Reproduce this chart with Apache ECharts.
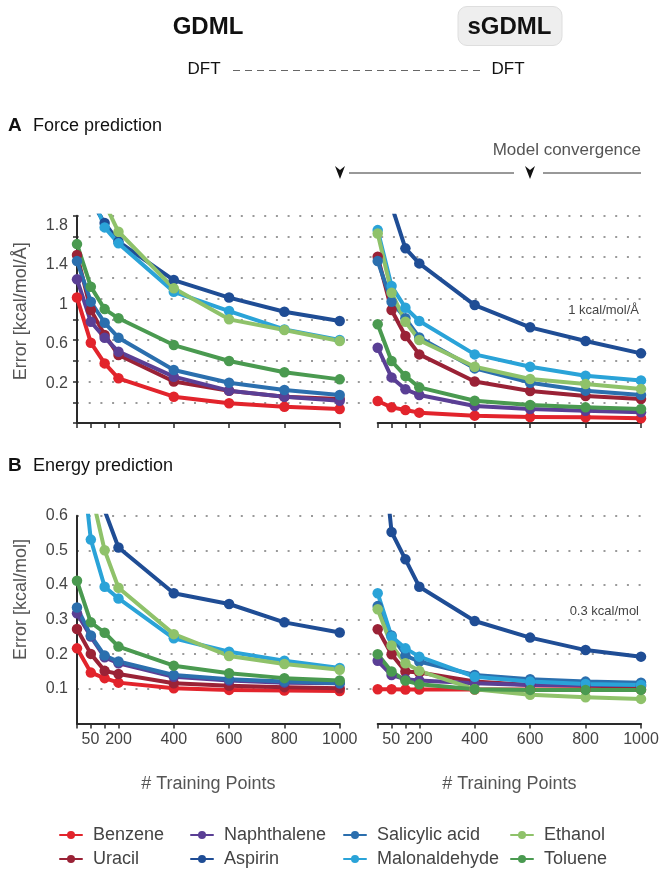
<!DOCTYPE html>
<html>
<head>
<meta charset="utf-8">
<script src="https://cdn.jsdelivr.net/npm/echarts@6/dist/echarts.min.js"></script>
<style>
html,body{margin:0;padding:0;background:#fff;}
#chart{width:664px;height:869px;}
</style>
</head>
<body>
<div id="chart"></div>
<script>
// ---------- data ----------
const trainingPoints = [50, 100, 150, 200, 400, 600, 800, 1000];
const xTickLabels = [50, 200, 400, 600, 800, 1000];
const molecules = ['Benzene', 'Uracil', 'Naphthalene', 'Aspirin', 'Salicylic acid', 'Malonaldehyde', 'Ethanol', 'Toluene'];
const moleculeColors = ['#e2242c', '#9a2236', '#5a3f95', '#1f4d95', '#2b6fae', '#2aa3d8', '#8fc26a', '#4a9a50'];
const forceLabelTicks = [0.2, 0.6, 1, 1.4, 1.8];

// Force error [kcal/mol/Å], GDML (left) and sGDML (right)
const forceGDML = {
  'Benzene':        [1.21, 0.775, 0.575, 0.431, 0.254, 0.19, 0.157, 0.135],
  'Uracil':         [1.62, 1.09, 0.85, 0.656, 0.40, 0.31, 0.254, 0.231],
  'Naphthalene':    [1.386, 0.977, 0.823, 0.688, 0.447, 0.312, 0.254, 0.215],
  'Aspirin':        [2.9, 2.145, 1.93, 1.75, 1.379, 1.21, 1.073, 0.984],
  'Salicylic acid': [1.562, 1.17, 0.967, 0.823, 0.511, 0.389, 0.318, 0.27],
  'Malonaldehyde':  [2.8, 2.234, 1.887, 1.733, 1.266, 1.08, 0.903, 0.80],
  'Ethanol':        [3.2, 2.6, 2.12, 1.845, 1.299, 1.0, 0.897, 0.791],
  'Toluene':        [1.726, 1.315, 1.099, 1.01, 0.752, 0.598, 0.489, 0.421]
};
const forceSGDML = {
  'Benzene':        [0.212, 0.151, 0.125, 0.1, 0.071, 0.058, 0.055, 0.045],
  'Uracil':         [1.604, 1.09, 0.839, 0.662, 0.40, 0.309, 0.26, 0.231],
  'Naphthalene':    [0.726, 0.44, 0.325, 0.27, 0.164, 0.135, 0.119, 0.103],
  'Aspirin':        [2.8, 2.098, 1.685, 1.54, 1.138, 0.923, 0.791, 0.672],
  'Salicylic acid': [1.562, 1.17, 1.01, 0.826, 0.527, 0.389, 0.312, 0.27],
  'Malonaldehyde':  [1.861, 1.321, 1.112, 0.984, 0.662, 0.543, 0.456, 0.411],
  'Ethanol':        [1.829, 1.257, 0.977, 0.80, 0.543, 0.424, 0.376, 0.328],
  'Toluene':        [0.952, 0.598, 0.453, 0.344, 0.215, 0.174, 0.151, 0.135]
};
// Energy error [kcal/mol]
const energyGDML = {
  'Benzene':        [0.217, 0.147, 0.131, 0.118, 0.102, 0.097, 0.095, 0.094],
  'Uracil':         [0.273, 0.201, 0.152, 0.143, 0.116, 0.109, 0.105, 0.102],
  'Naphthalene':    [0.318, 0.251, 0.191, 0.174, 0.135, 0.124, 0.118, 0.116],
  'Aspirin':        [1.0, 0.8, 0.615, 0.508, 0.376, 0.345, 0.292, 0.263],
  'Salicylic acid': [0.335, 0.254, 0.196, 0.179, 0.14, 0.128, 0.121, 0.116],
  'Malonaldehyde':  [0.894, 0.531, 0.395, 0.361, 0.246, 0.207, 0.181, 0.16],
  'Ethanol':        [1.0, 0.674, 0.50, 0.392, 0.258, 0.195, 0.172, 0.155],
  'Toluene':        [0.412, 0.292, 0.262, 0.222, 0.167, 0.145, 0.131, 0.124]
};
const energySGDML = {
  'Benzene':        [0.099, 0.099, 0.098, 0.098, 0.098, 0.098, 0.098, 0.098],
  'Uracil':         [0.272, 0.2, 0.15, 0.147, 0.121, 0.111, 0.109, 0.107],
  'Naphthalene':    [0.181, 0.14, 0.128, 0.124, 0.116, 0.111, 0.111, 0.111],
  'Aspirin':        [0.94, 0.553, 0.474, 0.395, 0.296, 0.248, 0.212, 0.193],
  'Salicylic acid': [0.339, 0.254, 0.196, 0.179, 0.14, 0.128, 0.121, 0.118],
  'Malonaldehyde':  [0.376, 0.251, 0.217, 0.193, 0.135, 0.121, 0.114, 0.111],
  'Ethanol':        [0.33, 0.225, 0.174, 0.152, 0.099, 0.083, 0.076, 0.071],
  'Toluene':        [0.2, 0.15, 0.124, 0.113, 0.099, 0.097, 0.097, 0.097]
};

// ---------- chart ----------
const FONT = '"Liberation Sans", Arial, Helvetica, sans-serif';
const chart = echarts.init(document.getElementById('chart'), null, {renderer: 'canvas'});

const dotted = {show: true, showMinLine: false, lineStyle: {color: '#9a9a9a', width: 2, type: [2, 9.7]}};
const axisDark = {show: true, lineStyle: {color: '#2a2a2a', width: 2}};

const grids = [
  {left: 77, top: 215.7, width: 564, height: 207.3},
  {left: 77, top: 215.7, width: 262.7, height: 207.3},
  {left: 377.7, top: 215.7, width: 263.3, height: 207.3},
  {left: 77, top: 515.7, width: 564, height: 207.8},
  {left: 77, top: 515.7, width: 262.7, height: 207.8},
  {left: 377.7, top: 515.7, width: 263.3, height: 207.8}
];

function panelX(gridIndex, withLabels) {
  return {
    type: 'value', gridIndex: gridIndex, min: 50, max: 1000,
    axisLine: axisDark,
    axisTick: {show: true, customValues: trainingPoints, length: 5, lineStyle: {color: '#2a2a2a', width: 1.5}},
    axisLabel: withLabels ? {
      show: true, customValues: xTickLabels, fontFamily: FONT, fontSize: 16, color: '#444', margin: 8,
      formatter: v => v === 50 ? '{s|50}' : String(v),
      rich: {s: {fontFamily: FONT, fontSize: 16, color: '#444', padding: [0, 0, 0, 27]}}
    } : {show: false},
    splitLine: {show: false},
    name: withLabels ? '# Training Points' : '',
    nameLocation: 'middle', nameGap: 52,
    nameTextStyle: {fontFamily: FONT, fontSize: 18, color: '#555'}
  };
}
const xAxes = [
  {type: 'value', gridIndex: 0, min: 0, max: 1, show: false},
  panelX(1, false),
  panelX(2, false),
  {type: 'value', gridIndex: 3, min: 0, max: 1, show: false},
  panelX(4, true),
  panelX(5, true)
];

const yAxes = [
  { // 0: force data axis (grid 0)
    type: 'value', gridIndex: 0, position: 'left', min: 0, max: 2, interval: 0.2,
    axisLine: axisDark,
    axisTick: {show: true, length: 4, lineStyle: {color: '#2a2a2a', width: 1.5}},
    axisLabel: {show: false},
    splitLine: dotted,
    name: 'Error [kcal/mol/Å]', nameLocation: 'middle', nameGap: 47, nameRotate: 90,
    nameTextStyle: {fontFamily: FONT, fontSize: 18, color: '#555', padding: [0, 0, 0, 16]}
  },
  { // 1: force tick-label axis (grid 0)
    type: 'value', gridIndex: 0, position: 'left', offset: 0, min: -0.2, max: 1.9, interval: 0.2,
    axisLine: {show: false, onZero: false}, axisTick: {show: false}, splitLine: {show: false},
    axisLabel: {
      show: true, fontFamily: FONT, fontSize: 16, color: '#444', margin: 9,
      showMinLabel: false, showMaxLabel: false,
      formatter: v => {
        const r = Math.round(v * 10) / 10;
        return forceLabelTicks.some(t => Math.abs(t - r) < 1e-6) ? String(r) : '';
      }
    }
  },
  {type: 'value', gridIndex: 1, min: 0, max: 2, show: false},
  {type: 'value', gridIndex: 2, min: 0, max: 2, show: false},
  { // 4: energy axis (grid 3)
    type: 'value', gridIndex: 3, position: 'left', min: 0, max: 0.6, interval: 0.1,
    axisLine: axisDark,
    axisTick: {show: false},
    axisLabel: {show: true, showMinLabel: false, fontFamily: FONT, fontSize: 16, color: '#444', margin: 9},
    splitLine: dotted,
    name: 'Error [kcal/mol]', nameLocation: 'middle', nameGap: 47, nameRotate: 90,
    nameTextStyle: {fontFamily: FONT, fontSize: 18, color: '#555', padding: [0, 0, 0, 40]}
  },
  {type: 'value', gridIndex: 4, min: 0, max: 0.6, show: false},
  {type: 'value', gridIndex: 5, min: 0, max: 0.6, show: false}
];

const panels = [
  {data: forceGDML, x: 1, y: 2},
  {data: forceSGDML, x: 2, y: 3, ref: 1, refLabel: '1 kcal/mol/Å'},
  {data: energyGDML, x: 4, y: 5},
  {data: energySGDML, x: 5, y: 6, ref: 0.3, refLabel: '0.3 kcal/mol'}
];

const series = [];
panels.forEach(p => {
  molecules.forEach((m, mi) => {
    const s = {
      type: 'line', name: m, xAxisIndex: p.x, yAxisIndex: p.y,
      data: trainingPoints.map((x, i) => [x, p.data[m][i]]),
      symbol: 'circle', symbolSize: 10.5, clip: true,
      itemStyle: {color: moleculeColors[mi]},
      lineStyle: {color: moleculeColors[mi], width: 4, cap: 'round', join: 'round'},
      emphasis: {disabled: true}
    };
    if (p.ref !== undefined && mi === 0) {
      s.markLine = {
        silent: true, symbol: 'none',
        lineStyle: {color: 'rgba(0,0,0,0)', width: 1, type: 'solid'},
        label: {show: true, position: 'insideEndTop', formatter: p.refLabel, fontFamily: FONT, fontSize: 13, color: '#444', distance: 2},
        data: [{yAxis: p.ref}]
      };
    }
    series.push(s);
  });
});

const legendCols = [
  {left: 59, names: ['Benzene', 'Uracil']},
  {left: 190, names: ['Naphthalene', 'Aspirin']},
  {left: 343, names: ['Salicylic acid', 'Malonaldehyde']},
  {left: 510, names: ['Ethanol', 'Toluene']}
];
const legends = legendCols.map(c => ({
  orient: 'vertical', left: c.left, top: 826, itemGap: 6, padding: 0,
  itemWidth: 22, itemHeight: 10, selectedMode: false,
  data: c.names,
  textStyle: {fontFamily: FONT, fontSize: 18, color: '#444', padding: [0, 0, 0, 6]}
}));

function txt(text, x, y, size, opts) {
  opts = opts || {};
  return {
    type: 'text', x: x, y: y, silent: true,
    style: {
      text: text, fill: opts.fill || '#111',
      font: (opts.bold ? 'bold ' : '') + size + 'px ' + FONT,
      align: opts.align || 'left', verticalAlign: 'middle'
    }
  };
}
function arrow(x, y) {
  return {
    type: 'polygon', silent: true,
    shape: {points: [[x - 5, y - 7], [x, y - 3], [x + 5, y - 7], [x, y + 6]]},
    style: {fill: '#111'}
  };
}

const graphics = [
  txt('GDML', 208, 27, 24, {bold: true, align: 'center'}),
  {type: 'rect', silent: true, shape: {x: 458, y: 6.5, width: 104, height: 39, r: 9},
   style: {fill: '#eeeeee', stroke: '#dedede', lineWidth: 1}},
  txt('sGDML', 509.5, 27, 24, {bold: true, align: 'center'}),
  txt('DFT', 204, 69.5, 17, {align: 'center'}),
  txt('DFT', 508, 69.5, 17, {align: 'center'}),
  {type: 'line', silent: true, shape: {x1: 233, y1: 70.5, x2: 480, y2: 70.5},
   style: {stroke: '#666', lineWidth: 1.2, lineDash: [7, 5]}},
  txt('A', 8, 126, 19, {bold: true}),
  txt('Force prediction', 33, 126, 18),
  txt('B', 8, 466, 19, {bold: true}),
  txt('Energy prediction', 33, 466, 18),
  txt('Model convergence', 641, 150, 17, {align: 'right', fill: '#555'}),
  arrow(340, 173),
  {type: 'line', silent: true, shape: {x1: 349, y1: 173, x2: 514, y2: 173}, style: {stroke: '#333', lineWidth: 1}},
  arrow(530, 173),
  {type: 'line', silent: true, shape: {x1: 543, y1: 173, x2: 641, y2: 173}, style: {stroke: '#333', lineWidth: 1}}
];

chart.setOption({
  animation: false,
  backgroundColor: '#ffffff',
  textStyle: {fontFamily: FONT},
  grid: grids,
  xAxis: xAxes,
  yAxis: yAxes,
  legend: legends,
  series: series,
  graphic: graphics
});
</script>
</body>
</html>
